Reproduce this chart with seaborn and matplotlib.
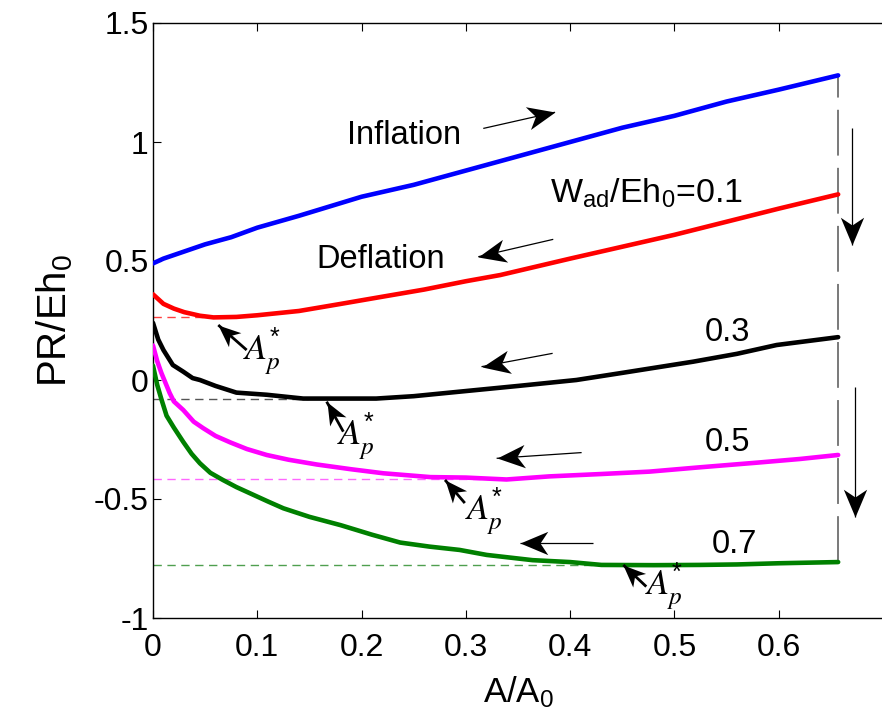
import numpy as np
import pandas as pd
import matplotlib
matplotlib.use("Agg")
import matplotlib.pyplot as plt
from matplotlib.path import Path
from matplotlib.markers import MarkerStyle
from matplotlib.transforms import Affine2D
import seaborn as sns

# Inflation branch
x_inflation = [0, 0.005, 0.01, 0.02, 0.03, 0.05, 0.075, 0.1, 0.14, 0.2, 0.25, 0.3,
               0.35, 0.4, 0.45, 0.5, 0.55, 0.6, 0.657]
y_inflation = [0.49, 0.50, 0.51, 0.525, 0.54, 0.57, 0.60, 0.64, 0.69, 0.77, 0.82, 0.88,
               0.94, 1.00, 1.06, 1.11, 1.17, 1.22, 1.28]

# Deflation branches, W_ad/Eh0 = 0.1, 0.3, 0.5, 0.7
x_w01 = [0, 0.005, 0.01, 0.02, 0.03, 0.045, 0.058, 0.08, 0.1, 0.14, 0.179, 0.22,
         0.26, 0.3, 0.333, 0.4, 0.45, 0.5, 0.55, 0.6, 0.657]
y_w01 = [0.36, 0.34, 0.32, 0.30, 0.285, 0.27, 0.263, 0.265, 0.272, 0.29, 0.319, 0.35,
         0.38, 0.415, 0.441, 0.51, 0.56, 0.61, 0.665, 0.72, 0.78]

x_w03 = [0, 0.005, 0.01, 0.019, 0.029, 0.038, 0.045, 0.06, 0.08, 0.109, 0.144, 0.18,
         0.214, 0.25, 0.294, 0.35, 0.406, 0.45, 0.518, 0.56, 0.598, 0.657]
y_w03 = [0.24, 0.17, 0.126, 0.063, 0.035, 0.008, 0.0, -0.025, -0.053, -0.062, -0.078,
         -0.078, -0.078, -0.068, -0.049, -0.025, 0.0, 0.03, 0.077, 0.11, 0.147, 0.18]

x_w05 = [0, 0.004, 0.008, 0.016, 0.02, 0.029, 0.039, 0.048, 0.06, 0.074, 0.09, 0.109,
         0.13, 0.157, 0.19, 0.221, 0.266, 0.3, 0.339, 0.38, 0.43, 0.476, 0.524, 0.58,
         0.62, 0.657]
y_w05 = [0.145, 0.08, 0.03, -0.055, -0.09, -0.126, -0.175, -0.202, -0.235, -0.262,
         -0.29, -0.315, -0.335, -0.355, -0.375, -0.392, -0.408, -0.410, -0.418, -0.405,
         -0.395, -0.385, -0.367, -0.347, -0.332, -0.315]

x_w07 = [0, 0.004, 0.008, 0.013, 0.02, 0.029, 0.037, 0.045, 0.055, 0.067, 0.08, 0.093,
         0.11, 0.125, 0.15, 0.18, 0.21, 0.237, 0.265, 0.294, 0.32, 0.364, 0.4, 0.43,
         0.48, 0.524, 0.56, 0.6, 0.657]
y_w07 = [0.06, -0.02, -0.08, -0.15, -0.2, -0.26, -0.31, -0.35, -0.39, -0.42, -0.45,
         -0.476, -0.51, -0.539, -0.575, -0.61, -0.65, -0.683, -0.70, -0.714, -0.735,
         -0.757, -0.765, -0.777, -0.778, -0.777, -0.775, -0.77, -0.765]

series_names = ["Inflation", "0.1", "0.3", "0.5", "0.7"]
series_colors = ["#0000ff", "#ff0000", "#000000", "#ff00ff", "#008000"]

# Minimum points A_p* of the deflation branches
ap_x = [0.058, 0.15, 0.339, 0.45]
ap_y = [0.263, -0.078, -0.418, -0.777]
ap_line_colors = ["#ff4040", "#555555", "#ff66ff", "#4f9f4f"]

x_end = 0.657
x_ticks = [0, 0.1, 0.2, 0.3, 0.4, 0.5, 0.6]
y_ticks = [-1, -0.5, 0, 0.5, 1, 1.5]
x_tick_labels = ["0", "0.1", "0.2", "0.3", "0.4", "0.5", "0.6"]
y_tick_labels = ["-1", "-0.5", "0", "0.5", "1", "1.5"]

frames = []
for name, xs, ys in zip(series_names,
                        [x_inflation, x_w01, x_w03, x_w05, x_w07],
                        [y_inflation, y_w01, y_w03, y_w05, y_w07]):
    frames.append(pd.DataFrame({"A": xs, "PR": ys, "series": name}))
df = pd.concat(frames, ignore_index=True)

sns.set_style("ticks")
plt.rcParams["font.family"] = ["Liberation Sans", "DejaVu Sans"]
plt.rcParams["mathtext.fontset"] = "custom"
plt.rcParams["mathtext.rm"] = "Liberation Sans"
plt.rcParams["mathtext.it"] = "Liberation Sans:italic"
plt.rcParams["mathtext.default"] = "regular"
plt.rcParams["axes.labelcolor"] = "black"
plt.rcParams["text.color"] = "black"

fig = plt.figure(figsize=(8.82, 7.23), dpi=100)
ax = fig.add_axes([153 / 882, 1 - 618 / 723, 730 / 882, 595 / 723])

sns.lineplot(data=df, x="A", y="PR", hue="series", hue_order=series_names,
             palette=series_colors, linewidth=3.3, legend=False, sort=False,
             estimator=None, units="series", ax=ax, zorder=3)

# dashed guides at the minimum of each deflation branch
for px, py, c in zip(ap_x, ap_y, ap_line_colors):
    ax.plot([0, px], [py, py], color=c, lw=1.0, dashes=(6, 4), zorder=2)

# vertical dashed line at the end of loading
ax.plot([x_end, x_end], [y_w07[-1], y_inflation[-1]], color="#555555", lw=1.1,
        dashes=(30, 8), zorder=2)

ax.set_xlim(0, 0.7)
ax.set_ylim(-1, 1.5)
ax.set_xticks(x_ticks)
ax.set_xticklabels(x_tick_labels)
ax.set_yticks(y_ticks)
ax.set_yticklabels(y_tick_labels)
ax.tick_params(axis="both", direction="in", length=6, width=0.8, labelsize=23,
               colors="black")
ax.tick_params(axis="x", top=True, pad=11)
ax.tick_params(axis="y", pad=3)
for s in ax.spines.values():
    s.set_linewidth(1.0)
    s.set_color("black")
ax.spines["right"].set_visible(False)

ax.set_xlabel("A/A$_0$", fontsize=25, labelpad=8)
ax.set_ylabel("PR/Eh$_0$", fontsize=29, labelpad=14)

text_kw = dict(fontsize=23.5, color="black")
ax.text(0.1857, 0.99, "Inflation", ha="left", va="baseline", **text_kw)
ax.text(0.157, 0.47, "Deflation", ha="left", va="baseline", **text_kw)
ax.text(0.381, 0.744, r"W$_{\mathrm{ad}}$/Eh$_0$=0.1", ha="left", va="baseline",
        fontsize=24.5, color="black")
ax.text(0.529, 0.165, "0.3", ha="left", va="baseline", **text_kw)
ax.text(0.529, -0.30, "0.5", ha="left", va="baseline", **text_kw)
ax.text(0.536, -0.725, "0.7", ha="left", va="baseline", **text_kw)

# swept-back arrowhead, tip at the origin, pointing along +x
_head = Path([(0, 0), (-1.0, 0.42), (-0.72, 0), (-1.0, -0.42), (0, 0)],
             [Path.MOVETO, Path.LINETO, Path.LINETO, Path.LINETO, Path.CLOSEPOLY])


def arrow(tail, tip, head=40, lw=0.9):
    """Thin line from tail to tip with a filled swept-back head."""
    p0 = ax.transData.transform(tail)
    p1 = ax.transData.transform(tip)
    ang = np.degrees(np.arctan2(p1[1] - p0[1], p1[0] - p0[0]))
    ax.plot([tail[0], tip[0]], [tail[1], tip[1]], color="black", lw=lw,
            solid_capstyle="butt", zorder=5)
    m = MarkerStyle(_head, transform=Affine2D().rotate_deg(ang))
    ax.plot([tip[0]], [tip[1]], marker=m, markersize=head, color="black",
            markeredgewidth=0, linestyle="none", zorder=6)


# direction of loading
arrow((0.3167, 1.057), (0.3854, 1.125))
arrow((0.3838, 0.591), (0.3119, 0.518))
arrow((0.3832, 0.112), (0.315, 0.056))
arrow((0.411, -0.305), (0.3295, -0.329))
arrow((0.4222, -0.684), (0.3519, -0.684))
# increasing adhesion
arrow((0.670, 1.059), (0.670, 0.567))
arrow((0.673, -0.029), (0.673, -0.576))

# A_p* markers
ap_text_pos = [(0.0863, 0.084), (0.176, -0.273), (0.299, -0.588), (0.4717, -0.903)]
ap_tail = [(0.0898, 0.126), (0.1825, -0.217), (0.299, -0.517), (0.473, -0.868)]
ap_tip = [(0.0626, 0.231), (0.1665, -0.091), (0.28, -0.42), (0.451, -0.777)]
for (tx, ty), tail, tip in zip(ap_text_pos, ap_tail, ap_tip):
    ax.text(tx, ty, r"$\mathit{A}_{\mathit{p}}^{*}$", fontsize=26,
            math_fontfamily="stix", ha="left", va="baseline", color="black")
    arrow(tail, tip, head=32, lw=2.0)

fig.savefig("out.png", dpi=100, facecolor="white")
